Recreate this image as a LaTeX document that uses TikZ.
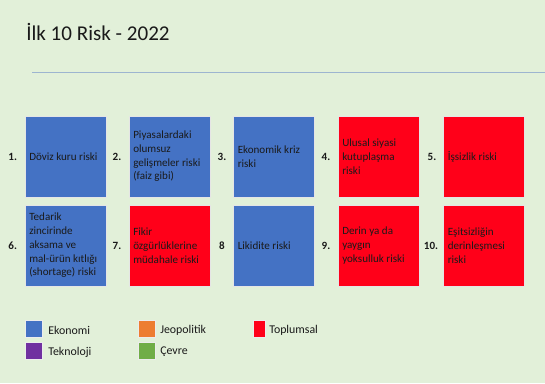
\documentclass[tikz,border=0pt]{standalone}
\usepackage{fontspec}
\setmainfont{Carlito}
\definecolor{bg}{HTML}{E2F0D9}
\definecolor{eko}{HTML}{4472C4}
\definecolor{top}{HTML}{FF0019}
\definecolor{jeo}{HTML}{ED7D31}
\definecolor{tek}{HTML}{7030A0}
\definecolor{cev}{HTML}{70AD47}
\definecolor{rule}{HTML}{9DB5D0}
\definecolor{ink}{HTML}{1A1A1A}
\tikzset{
  riskbox/.style={draw=white!80!gray, line width=0.4pt, minimum width=60.75pt, minimum height=60.75pt, inner sep=0pt},
  eb/.style={riskbox, fill=eko},
  tb/.style={riskbox, fill=top},
  boxtxt/.style={anchor=west, align=left, inner sep=0pt, font=\fontsize{8.3pt}{10.3pt}\selectfont, text=ink},
  num/.style={font=\fontsize{8.3pt}{10.3pt}\selectfont\bfseries, text=ink, inner sep=0pt},
  legsq/.style={draw=white!85!gray, line width=0.4pt},
  legtxt/.style={anchor=west, inner sep=0pt, font=\fontsize{8.9pt}{10pt}\selectfont, text=ink}
}
\begin{document}
\begin{tikzpicture}[x=0.75pt,y=-0.75pt]
\useasboundingbox (0,0) rectangle (545,384);
\fill[bg] (0,0) rectangle (545,383);
\fill[white] (0,383) rectangle (545,384);
\node[anchor=base west, inner sep=0pt, font=\fontsize{15.8pt}{18pt}\selectfont, text=ink] (title) at (26,40.7) {İlk 10 Risk - 2022};
\coordinate (ruleL) at (32,72.7);
\coordinate (ruleR) at (545,72.7);
\draw[rule, line width=0.8pt] (ruleL) -- (ruleR);
% boxes row 1
\node[eb] (b1) at (65.5,156.5) {};
\node[eb] (b2) at (169.5,156.5) {};
\node[eb] (b3) at (274,156.5) {};
\node[tb] (b4) at (378.5,156.5) {};
\node[tb] (b5) at (484,156.5) {};
% boxes row 2
\node[eb] (b6) at (65.5,245.5) {};
\node[tb] (b7) at (169.5,245.5) {};
\node[eb] (b8) at (274,245.5) {};
\node[tb] (b9) at (378.5,245.5) {};
\node[tb] (b10) at (484,245.5) {};
% texts
\node[boxtxt] (t1) at ([xshift=3.2pt]b1.west) {Döviz kuru riski};
\node[boxtxt] (t2) at ([xshift=3.2pt]b2.west) {Piyasalardaki\\olumsuz\\gelişmeler riski\\(faiz gibi)};
\node[boxtxt] (t3) at ([xshift=3.2pt]b3.west) {Ekonomik kriz\\riski};
\node[boxtxt] (t4) at ([xshift=3.2pt]b4.west) {Ulusal siyasi\\kutuplaşma\\riski};
\node[boxtxt] (t5) at ([xshift=3.2pt]b5.west) {İşsizlik riski};
\node[boxtxt] (t6) at ([xshift=3.2pt]b6.west) {Tedarik\\zincirinde\\aksama ve\\mal-ürün kıtlığı\\(shortage) riski};
\node[boxtxt] (t7) at ([xshift=3.2pt]b7.west) {Fikir\\özgürlüklerine\\müdahale riski};
\node[boxtxt] (t8) at ([xshift=3.2pt]b8.west) {Likidite riski};
\node[boxtxt] (t9) at ([xshift=3.2pt]b9.west) {Derin ya da\\yaygın\\yoksulluk riski};
\node[boxtxt] (t10) at ([xshift=3.2pt]b10.west) {Eşitsizliğin\\derinleşmesi\\riski};
% numbers
\node[num] (n1) at (12.7,156.5) {1.};
\node[num] (n2) at (117,156.5) {2.};
\node[num] (n3) at (222,156.5) {3.};
\node[num] (n4) at (326,156.5) {4.};
\node[num] (n5) at (432,156.5) {5.};
\node[num] (n6) at (12.7,245.5) {6.};
\node[num] (n7) at (117,245.5) {7.};
\node[num] (n8) at (222,245.5) {8};
\node[num] (n9) at (326,245.5) {9.};
\node[num] (n10) at (431,245.5) {10.};
% legend
\filldraw[legsq, fill=eko] (25.5,320.5) rectangle (42.5,337.5);
\filldraw[legsq, fill=tek] (25.5,342.5) rectangle (42.5,359.5);
\filldraw[legsq, fill=jeo] (138.5,320.5) rectangle (155.5,337.5);
\filldraw[legsq, fill=cev] (138.5,342.5) rectangle (155.5,359.5);
\filldraw[legsq, fill=top] (253.5,320.5) rectangle (265.5,337.5);
\node[legtxt] (l1) at (48,330) {Ekonomi};
\node[legtxt] (l2) at (48,352) {Teknoloji};
\node[legtxt] (l3) at (160,330) {Jeopolitik};
\node[legtxt] (l4) at (160,352) {Çevre};
\node[legtxt] (l5) at (269,330) {Toplumsal};
\end{tikzpicture}
\end{document}
